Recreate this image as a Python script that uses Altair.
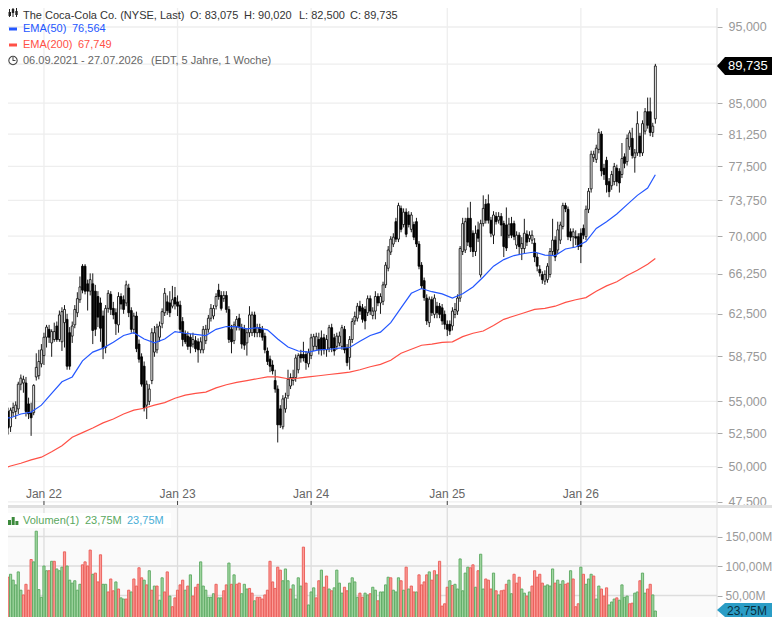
import altair as alt
import pandas as pd

opens = [
56.6,55.8,54.9,54.2,53.0,54.1,54.2,54.4,56.4,56.5,
56.5,54.8,54.1,54.1,57.0,57.1,58.1,58.8,60.4,61.1,
59.9,60.2,61.4,60.2,60.0,61.7,62.0,60.8,60.5,61.5,
62.6,63.8,67.0,67.0,65.3,64.6,65.3,64.6,64.1,63.5,
62.3,59.5,63.0,64.3,63.0,62.6,61.5,64.1,63.8,63.5,
64.9,62.8,61.1,62.3,59.8,58.7,57.9,54.7,55.0,56.7,
59.1,59.3,60.4,61.6,62.6,63.6,63.5,63.2,64.0,63.6,
63.3,61.8,60.7,60.5,60.4,59.8,60.1,60.0,59.3,59.3,
60.1,61.1,62.1,62.3,63.2,64.7,64.2,63.9,64.2,62.9,
61.1,60.1,61.3,62.1,61.25,61.1,59.9,60.8,60.8,62.4,
60.8,61.25,61.1,60.5,59.2,58.5,58.0,56.7,56.0,54.4,
53.0,54.4,55.45,56.25,56.7,56.95,57.6,58.9,58.9,58.9,
58.1,58.8,59.6,59.6,60.2,60.35,60.35,59.3,59.45,61.25,
60.35,59.6,59.9,59.6,61.1,59.45,58.65,60.2,61.85,62.1,
63.2,63.05,62.9,62.6,63.9,62.35,62.75,64.1,63.5,63.65,
65.2,66.8,68.4,69.2,71.5,69.7,72.9,71.2,72.5,72.2,
70.7,71.2,71.5,69.2,67.1,65.6,63.95,61.7,63.8,62.45,
63.2,63.2,63.05,62.45,61.55,61.55,61.4,62.45,62.75,63.95,
68.45,68.6,71.85,71.85,70.3,68.45,70.65,66.15,71.3,73.35,
73.4,71.65,70.1,72.05,71.65,72.05,71.3,71.15,70.1,71.3,
71.3,69.1,70.1,68.75,68.75,70.2,69.75,69.6,69.3,67.9,
66.7,66.2,65.55,65.7,66.2,68.45,69.6,68.6,69.6,71.0,
73.2,72.8,70.45,69.95,69.95,69.95,70.3,70.8,69.95,72.8,
75.0,78.5,78.3,79.45,81.25,77.3,78.2,75.8,75.35,75.8,
77.3,76.95,76.6,78.6,78.05,79.75,80.75,78.5,79.05,81.0,
79.05,81.6,83.95,83.95,81.45,83.075]
closes = [
55.7,54.6,54.0,52.9,54.3,54.5,54.7,56.4,56.9,56.8,
54.2,54.0,53.7,56.3,57.8,58.3,59.3,60.4,61.3,60.4,
60.9,60.9,60.2,62.4,62.7,62.9,57.9,57.9,61.4,62.9,
63.9,65.0,64.7,64.6,64.6,65.7,61.0,61.1,62.2,61.2,
59.4,63.0,64.4,62.9,62.4,61.6,64.1,63.4,62.9,65.2,
62.6,61.1,62.3,59.4,58.5,56.4,54.5,56.4,56.0,60.8,
60.8,61.3,61.4,62.7,64.4,62.8,62.6,63.8,63.4,63.2,
61.1,60.2,60.0,59.6,59.6,60.2,59.4,59.3,60.0,61.1,
61.1,62.1,63.0,63.0,64.1,64.1,63.0,64.2,62.9,60.2,
60.0,61.5,62.0,61.3,59.8,59.7,60.8,62.4,62.4,60.8,
61.25,60.8,60.4,59.3,58.3,57.9,57.5,56.0,53.15,53.15,
55.2,55.3,56.8,56.95,56.95,58.6,58.8,58.6,58.6,58.2,
59.05,60.35,60.45,60.45,59.3,59.3,59.3,60.2,61.25,59.45,
59.2,60.5,60.5,61.25,59.3,58.2,60.2,61.8,62.25,63.2,
62.75,62.0,61.85,63.9,62.75,62.75,64.1,63.5,64.1,65.2,
67.1,68.6,69.7,69.9,69.7,73.2,70.7,72.5,70.2,71.2,
72.2,69.9,69.2,67.0,65.1,64.0,61.85,63.85,62.6,63.95,
62.6,62.45,61.85,61.55,61.1,60.95,62.75,62.9,63.95,68.75,
71.3,71.5,69.4,68.9,68.45,70.3,69.8,71.3,72.9,71.65,
71.65,70.3,72.2,71.5,72.05,71.15,68.95,68.8,71.25,70.1,
69.95,70.1,68.95,69.25,70.3,69.4,70.1,70.1,67.9,67.0,
66.35,65.7,66.2,67.0,68.45,69.6,67.9,70.65,71.15,73.2,
72.85,69.95,69.9,70.45,69.8,68.95,68.95,70.1,72.8,74.75,
78.9,78.9,79.6,81.45,77.0,76.6,75.45,74.7,76.6,77.5,
75.8,75.65,78.4,77.85,80.75,81.4,78.75,79.05,82.5,79.05,
82.5,83.95,82.3,81.45,82.2,89.735]
highs = [
57.0,56.0,55.1,54.5,54.5,54.9,55.0,56.6,57.2,57.1,
57.0,55.3,54.9,56.4,59.0,59.3,59.8,60.8,61.5,61.5,
61.1,61.7,61.8,62.8,63.1,63.3,62.5,61.3,61.8,63.3,
64.5,66.0,67.2,67.2,65.7,66.3,66.3,65.2,64.6,64.0,
62.8,63.3,64.7,64.6,63.6,63.0,64.5,64.4,64.2,65.6,
65.3,63.1,62.6,62.7,60.2,59.0,58.3,56.7,56.4,61.2,
61.4,61.6,61.8,63.0,64.9,64.2,64.6,65.1,65.0,64.2,
63.7,62.2,61.0,60.9,60.7,60.8,60.5,60.3,60.4,61.4,
61.5,62.4,63.4,63.3,64.4,65.3,64.6,64.6,64.6,63.2,
61.5,61.8,62.3,62.5,61.6,61.5,61.2,63.2,62.7,62.7,
61.6,61.6,61.4,60.8,59.5,58.8,58.4,57.6,56.3,54.7,
55.5,55.7,57.6,57.3,57.6,58.9,59.0,59.3,60.0,59.2,
59.4,60.7,60.7,60.8,60.8,61.0,60.7,60.6,61.5,61.6,
60.7,60.8,60.9,61.5,61.4,59.8,60.5,62.1,62.7,63.5,
63.7,63.4,63.2,64.2,64.2,63.1,64.6,64.4,64.4,65.5,
67.4,69.0,70.0,70.3,71.9,73.5,73.2,72.9,72.9,72.6,
72.5,71.5,71.9,69.5,67.4,65.9,64.3,64.1,64.1,64.3,
63.6,63.5,63.4,62.8,61.9,61.9,63.1,63.5,64.3,69.0,
71.9,71.9,73.0,73.6,70.6,71.1,71.5,71.7,74.3,73.9,
74.4,72.0,72.6,72.5,72.5,72.4,71.6,73.0,71.9,72.0,
71.6,70.5,70.4,69.9,71.8,70.6,70.5,70.6,69.8,68.3,
67.1,66.5,66.6,67.3,68.8,71.8,70.0,71.5,71.5,73.5,
73.5,73.1,70.8,70.8,70.6,70.3,70.8,71.2,73.2,75.1,
79.3,79.3,80.0,81.9,81.6,77.8,78.6,76.2,77.0,77.9,
77.7,77.3,80.2,79.0,81.2,81.7,82.0,79.5,84.0,81.4,
82.9,84.4,85.7,85.7,82.6,90.02]
lows = [
55.4,54.3,53.8,52.4,52.6,53.8,53.6,54.0,55.9,55.7,
53.8,53.6,52.3,53.9,56.7,56.8,57.8,58.0,59.5,59.9,
58.7,60.0,60.0,60.0,59.2,59.5,57.6,57.6,59.9,61.2,
62.2,63.5,64.4,64.3,62.8,64.2,59.8,60.5,61.3,60.0,
58.5,59.0,62.6,62.4,62.0,60.6,60.8,62.9,62.5,63.2,
62.2,60.8,60.7,59.1,58.2,56.2,54.2,53.6,54.7,56.4,
58.7,59.0,60.0,61.2,62.3,62.4,62.2,63.0,62.9,62.3,
60.8,59.6,59.8,59.3,59.0,59.5,59.1,58.2,59.0,59.0,
59.8,60.8,61.8,62.0,62.9,63.8,62.8,63.6,62.6,59.9,
59.0,59.8,61.0,61.0,59.4,59.3,58.8,60.4,60.5,60.4,
60.4,60.4,60.1,59.0,58.0,57.4,57.2,55.7,51.8,52.9,
52.8,54.1,55.2,56.0,56.3,56.6,57.3,58.2,58.3,57.6,
57.8,58.5,59.2,59.3,58.9,58.8,58.9,58.7,59.1,59.1,
58.8,59.3,59.6,59.3,59.0,57.9,57.6,59.9,61.5,61.8,
62.4,61.7,61.1,62.3,62.4,62.0,62.0,63.2,62.5,63.3,
64.9,66.5,68.1,68.9,69.4,69.4,70.4,70.9,69.9,70.9,
70.4,69.6,68.9,66.7,64.8,63.7,61.5,61.3,62.3,62.1,
62.1,62.1,61.5,61.1,60.5,60.6,61.0,62.1,62.4,63.6,
68.1,68.3,69.0,68.4,67.9,68.0,69.4,65.9,71.0,71.3,
71.3,69.9,69.2,71.2,71.3,70.0,67.9,68.5,69.8,69.8,
69.6,68.7,68.1,67.6,68.3,69.0,69.4,69.2,67.4,66.5,
66.0,65.3,65.2,65.4,65.9,68.1,67.5,68.2,69.2,70.7,
72.5,69.6,69.5,68.8,69.1,68.6,67.3,69.7,69.6,72.4,
74.6,78.0,77.9,79.0,76.4,76.0,74.6,74.1,74.9,75.4,
75.3,74.6,76.2,77.3,77.6,79.4,78.4,76.8,78.7,78.6,
78.7,81.2,81.9,81.0,80.9,82.5]

ema_weeks = list(range(0, 255, 4)) + [255]
ema50 = [
53.65,53.7,54.0,54.15,54.7,55.65,56.6,57.0,58.35,59.1,59.45,59.95,60.55,60.8,60.25,59.9,
60.25,60.9,60.75,60.65,60.55,61.1,61.35,61.35,61.15,61.25,61.05,60.25,59.55,59.2,59.1,59.3,
59.35,59.45,59.5,60.05,60.55,60.85,61.7,63.05,64.4,64.85,64.55,64.35,63.95,64.35,65.0,65.95,
67.0,67.65,68.05,68.25,68.4,68.1,68.05,68.7,68.9,69.45,70.8,71.5,72.3,73.3,74.3,75.1,76.564]
ema200 = [
49.8,50.05,50.25,50.5,50.7,51.1,51.55,52.2,52.55,52.9,53.3,53.6,54.0,54.3,54.45,54.7,
54.9,55.25,55.5,55.65,55.75,56.1,56.35,56.55,56.7,56.85,57.0,57.0,56.85,56.9,57.0,57.1,
57.2,57.3,57.4,57.6,57.85,58.05,58.4,59.0,59.35,59.7,59.8,59.95,60.0,60.45,60.75,60.95,
61.45,62.0,62.3,62.6,62.9,63.0,63.2,63.55,63.8,64.0,64.6,65.1,65.5,66.1,66.6,67.2,67.749]

volumes = [
95,102,81,81,86,76,68,90,59,51,69,
59,111,107,159,60,47,100,92,92,108,
108,95,92,98,124,100,76,71,75,59,
69,102,107,100,127,86,88,73,119,69,
69,56,78,58,73,61,46,44,44,59,
56,78,66,97,80,76,68,92,59,66,
66,42,80,56,90,49,31,46,59,68,
76,59,66,85,49,64,69,107,66,59,
47,47,53,69,46,46,58,68,105,69,
85,69,71,53,69,61,62,54,41,47,
47,44,51,59,108,73,62,98,93,75,
95,75,61,68,44,80,66,132,71,34,
56,63,46,75,93,64,83,61,58,63,
93,71,54,64,58,71,80,73,47,54,
47,54,51,53,64,59,41,56,56,68,
81,80,59,56,80,75,59,98,61,66,
56,56,85,68,73,85,90,76,92,85,
108,32,36,64,75,67,69,61,112,58,
88,98,97,102,64,92,120,61,78,76,
61,88,58,51,58,59,69,76,53,86,
71,81,
61,54,49,56,66,92,81,86,71,66,
68,66,95,71,76,69,75,69,71,92,
78,31,36,98,86,69,78,86,83,44,
66,61,49,63,34,39,44,46,42,68,
47,49,36,37,54,56,75,88,54,61,
69,51,23.75]
vol_dir = list(
"r" "rrrgggggrr" "rrggggggrg" "rgggrggggg" "grrrrgrrrg" "grrrgrggrr"
"grrrrgrgrg" "rggrrgrrrr" "rgrgrrrggg" "gggrggrrgr" "grrgggrrgr"
"rrrrrrrrrg" "ggrggggrrg" "ggrrgrrgrg" "gggrrggggr" "rggrggrggg"
"grgggrgrgr" "rgrrrrgrrg" "rrrrgrgggg" "ggrrgrggrr" "rgrgrrrggr" "rr"
"ggrgrrrrrg" "gggrgggrrg" "rrrgrgggrg" "grrrgggrgg" "ggrrggrggr" "rgg")

price_ticks = [47.5, 50, 52.5, 55, 58.75, 62.5, 66.25, 70, 73.75, 77.5, 81.25, 85, 90, 95]
vol_ticks = [50, 100, 150]
jan_ticks = ["2022-01-03", "2023-01-02", "2024-01-01", "2025-01-06", "2026-01-05"]
jan_labels = ["Jan 22", "Jan 23", "Jan 24", "Jan 25", "Jan 26"]

weeks = pd.date_range("2021-09-06", periods=256, freq="7D")
candles = pd.DataFrame({"date": weeks, "o": opens, "h": highs, "l": lows, "c": closes})
vols = pd.DataFrame({"date": weeks, "v": volumes, "d": vol_dir})
emas = pd.DataFrame({"date": weeks[ema_weeks], "e50": ema50, "e200": ema200})
jans = pd.DataFrame({"date": pd.to_datetime(jan_ticks), "t": jan_labels})
pt = pd.DataFrame({"p": price_ticks})
vt = pd.DataFrame({"p": vol_ticks})

FONT = "Liberation Sans"
W, H1, H2 = 709, 497, 112
x_scale = alt.Scale(domain=["2021-09-27", "2027-01-11"], padding=0)
px = alt.X("date:T", scale=x_scale, axis=None)
price_scale = alt.Scale(type="log", domain=[47.28, 97.67])
price_axis = alt.Axis(
    orient="right", values=price_ticks, grid=False, domain=False,
    tickColor="#aaaaaa", tickSize=5, labelColor="#999999",
    labelFontSize=12.5, labelPadding=6, title=None, labelFont=FONT,
    labelExpr="datum.value==90?'':replace(format(datum.value,'.3f'),'.',',')",
)
vol_scale = alt.Scale(domain=[13.56, 203.4])
vol_axis = alt.Axis(
    orient="right", values=vol_ticks, grid=False, domain=False,
    tickColor="#aaaaaa", tickSize=5, labelColor="#999999",
    labelFontSize=12, labelPadding=3, title=None, labelFont=FONT,
    labelExpr="replace(format(datum.value,'.2f'),'.',',')+'M'",
)
one = pd.DataFrame({"k": [1]})


def label(text, x, y, color, size=11):
    return alt.Chart(pd.DataFrame({"t": [text]})).mark_text(
        align="left", baseline="middle", color=color, fontSize=size, font=FONT
    ).encode(x=alt.value(x), y=alt.value(y), text="t:N")


def box(x1, x2, y1, y2, color):
    return alt.Chart(one).mark_rect(color=color, opacity=1).encode(
        x=alt.value(x1), x2=alt.value(x2), y=alt.value(y1), y2=alt.value(y2)
    )


# ---- price panel -----------------------------------------------------------
grid_x = alt.Chart(jans).mark_rule(color="#eeeeee", strokeWidth=1.3, clip=True).encode(x=px)
grid_y = alt.Chart(pt).mark_rule(color="#eeeeee", strokeWidth=1.3, clip=True).encode(
    y=alt.Y("p:Q", scale=price_scale, axis=price_axis)
)
wicks = alt.Chart(candles).mark_rule(color="black", strokeWidth=0.9, clip=True).encode(
    x=px, y=alt.Y("l:Q", scale=price_scale, axis=price_axis), y2="h:Q"
)
bodies = alt.Chart(candles).mark_bar(size=1.9, stroke="black", strokeWidth=0.8, clip=True).encode(
    x=px, y=alt.Y("o:Q", scale=price_scale, axis=price_axis), y2="c:Q",
    fill=alt.condition("datum.c>=datum.o", alt.value("white"), alt.value("black")),
)
line50 = alt.Chart(emas).mark_line(color="#2457ff", strokeWidth=1.2, clip=True).encode(
    x=px, y=alt.Y("e50:Q", scale=price_scale, axis=price_axis)
)
line200 = alt.Chart(emas).mark_line(color="#ff5046", strokeWidth=1.2, clip=True).encode(
    x=px, y=alt.Y("e200:Q", scale=price_scale, axis=price_axis)
)
jan_text = alt.Chart(jans).mark_text(color="#666666", fontSize=12, font=FONT, baseline="middle").encode(
    x=px, y=alt.value(486), text="t:N"
)
jan_tick = alt.Chart(jans).mark_rule(color="#444444", strokeWidth=1, clip=True).encode(
    x=px, y=alt.value(493), y2=alt.value(497)
)
tag1 = alt.Chart(pd.DataFrame({"p": [89.735]})).mark_point(
    shape="M0,0 L8,-9 L55,-9 L55,9 L8,9 Z", size=4, filled=True, color="black", opacity=1, clip=False
).encode(x=alt.value(W), y=alt.Y("p:Q", scale=price_scale, axis=price_axis))
tag1_text = alt.Chart(pd.DataFrame({"p": [89.735], "t": ["89,735"]})).mark_text(
    color="white", fontSize=13, font=FONT, align="left", baseline="middle"
).encode(x=alt.value(W + 11), y=alt.Y("p:Q", scale=price_scale, axis=price_axis), text="t:N")

clock = alt.Chart(one).mark_point(shape="circle", size=70, filled=False, color="#444444", strokeWidth=1.1, opacity=1, clip=True).encode(
    x=alt.value(5), y=alt.value(52.5)
)
icon = [
    box(1, 2, 1, 9, "#222222"), box(0.5, 3, 4, 8, "#222222"),
    box(4.5, 5.5, 0, 9, "#222222"), box(3.8, 6.2, 1, 5, "#222222"),
    box(8, 9, 0, 9, "#222222"), box(7.3, 9.7, 3, 7, "#222222"),
]
header = [
    label("The Coca-Cola Co. (NYSE, Last)", 15, 8, "#333333"),
    label("O: 83,075", 182, 8, "#333333"),
    label("H: 90,020", 236, 8, "#333333"),
    label("L: 82,500", 291, 8, "#333333"),
    label("C: 89,735", 342, 8, "#333333"),
    label("EMA(50)", 15, 21, "#2457ff"),
    label("76,564", 64, 21, "#2457ff"),
    label("EMA(200)", 15, 37, "#ff5046"),
    label("67,749", 70, 37, "#ff5046"),
    label("06.09.2021 - 27.07.2026", 15, 53, "#666666"),
    label("(EDT, 5 Jahre, 1 Woche)", 143, 53, "#666666"),
    box(1, 9, 19.5, 22.5, "#2457ff"),
    box(1, 9, 35.5, 38.5, "#ff5046"),
    box(4.5, 5.5, 49, 53, "#444444"),
    box(5, 7.5, 52, 53, "#444444"),
]
top = alt.layer(
    grid_y, grid_x, box(W - 0.5, W + 0.5, 0, H1, "#dddddd"),
    wicks, bodies, line200, line50, jan_tick, jan_text, tag1, tag1_text, clock,
    *icon, *header,
).properties(width=W, height=H1, view=alt.ViewConfig(fill="white", stroke=None))

# ---- volume panel ----------------------------------------------------------
grid_x2 = alt.Chart(jans).mark_rule(color="#dddddd", strokeWidth=1.3, clip=True).encode(x=px)
grid_y2 = alt.Chart(vt).mark_rule(color="#dddddd", strokeWidth=1.3, clip=True).encode(
    y=alt.Y("p:Q", scale=vol_scale, axis=vol_axis)
)
bars = alt.Chart(vols).mark_bar(size=2.2, strokeWidth=0.9, clip=True).encode(
    x=px,
    y=alt.Y("v:Q", scale=vol_scale, axis=vol_axis),
    fill=alt.Fill("d:N", scale=alt.Scale(domain=["g", "r"], range=["#a3d7a3", "#fb9c98"]), legend=None),
    stroke=alt.Stroke("d:N", scale=alt.Scale(domain=["g", "r"], range=["#5aa860", "#ea5a55"]), legend=None),
)
band = box(0, W + 55, 0, 3, "#e0e0e0")
legend_bg = alt.Chart(one).mark_rect(color="white", opacity=0.9).encode(
    x=alt.value(0), x2=alt.value(163), y=alt.value(8), y2=alt.value(23)
)
tag2 = alt.Chart(one).mark_point(
    shape="M0,0 L8,-7 L55,-7 L55,7 L8,7 Z", size=4, filled=True, color="#2a9dc6", opacity=1, clip=False
).encode(x=alt.value(W), y=alt.value(105))
tag2_text = alt.Chart(pd.DataFrame({"t": ["23,75M"]})).mark_text(
    color="#08303f", fontSize=12, font=FONT, align="left", baseline="middle"
).encode(x=alt.value(W + 10), y=alt.value(105.5), text="t:N")
bottom = alt.layer(
    grid_y2, grid_x2, box(W - 0.5, W + 0.5, 0, H2, "#dddddd"), bars, band, legend_bg, tag2, tag2_text,
    box(0, 3, 15, 20, "#3c8a3c"), box(3.7, 6.7, 12, 20, "#3c8a3c"), box(7.4, 10.4, 16, 20, "#3c8a3c"),
    label("Volumen(1)", 15, 16, "#5aa860"),
    label("23,75M", 77, 16, "#5aa860"),
    label("23,75M", 119, 16, "#4aaed6"),
).properties(width=W, height=H2, view=alt.ViewConfig(fill="#fafafa", stroke=None))

chart = alt.vconcat(top, bottom, spacing=0, bounds="flush").properties(padding=0).configure(font=FONT)
chart.save("out.html", embed_options={"renderer": "svg", "actions": False})
